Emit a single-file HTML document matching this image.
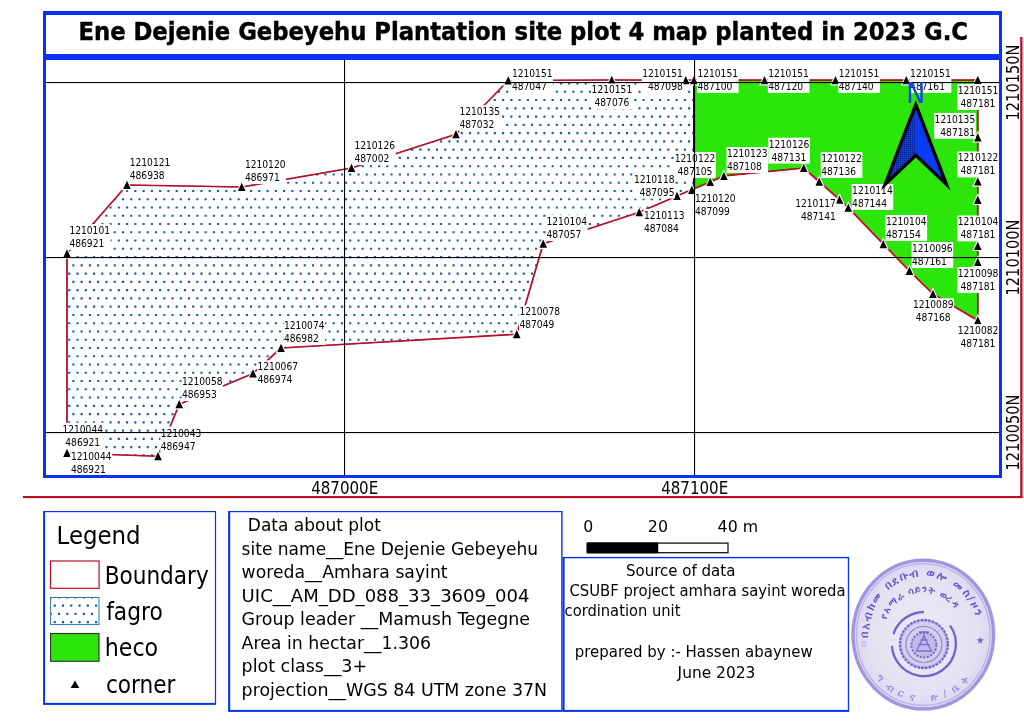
<!DOCTYPE html>
<html lang="en"><head><meta charset="utf-8"><title>Ene Dejenie Gebeyehu Plantation site plot 4 map</title>
<style>html,body{margin:0;padding:0;background:#fff}body{width:1024px;height:724px;overflow:hidden}svg{display:block;will-change:transform}text{font-family:"DejaVu Sans Condensed","DejaVu Sans","Liberation Sans",sans-serif;fill:#000}</style></head><body>
<svg width="1024" height="724" viewBox="0 0 1024 724">
<defs>
<pattern id="dots" patternUnits="userSpaceOnUse" x="0" y="0" width="8.264" height="16.528"><rect x="6.26" y="-0.1" width="2" height="2" rx="0.6" fill="#0f5eac"/><rect x="-2.0" y="-0.1" width="2" height="2" rx="0.6" fill="#0f5eac"/><rect x="2.13" y="8.16" width="2" height="2" rx="0.6" fill="#0f5eac"/></pattern>
<pattern id="adots" patternUnits="userSpaceOnUse" width="2" height="2"><rect x="0" y="0" width="1" height="1" fill="#02103f"/></pattern>
<clipPath id="mapclip"><rect x="46" y="60" width="953" height="415"/></clipPath>
<radialGradient id="stampg" cx="50%" cy="50%" r="50%"><stop offset="0" stop-color="#ebeaf5"/><stop offset="0.75" stop-color="#e4e2f2"/><stop offset="1" stop-color="#d9d4ef"/></radialGradient>
</defs>
<rect width="1024" height="724" fill="#fff"/>
<g clip-path="url(#mapclip)">
<clipPath id="fclip"><polygon points="67.00,253.50 127.00,185.00 241.75,187.00 351.50,168.00 456.00,134.25 508.25,80.50 611.75,80.00 685.75,80.20 694.00,80.20 694.00,188.80 691.75,189.50 677.00,196.00 639.25,212.25 543.25,243.75 516.75,334.25 281.00,348.00 253.00,373.50 179.25,404.25 158.00,456.25 67.00,453.00"/></clipPath>
<g clip-path="url(#fclip)" stroke="#0f5eac" stroke-width="2.1" stroke-dasharray="2.1 6.164" fill="none">
<path d="M35.14 58.75H1004M31.00 67.01H1004M35.14 75.27H1004M31.00 83.54H1004M35.14 91.80H1004M31.00 100.07H1004M35.14 108.33H1004M31.00 116.59H1004M35.14 124.86H1004M31.00 133.12H1004M35.14 141.39H1004M31.00 149.65H1004M35.14 157.91H1004M31.00 166.18H1004M35.14 174.44H1004M31.00 182.71H1004M35.14 190.97H1004M31.00 199.23H1004M35.14 207.50H1004M31.00 215.76H1004M35.14 224.03H1004M31.00 232.29H1004M35.14 240.55H1004M31.00 248.82H1004M35.14 257.08H1004M31.00 265.35H1004M35.14 273.61H1004M31.00 281.87H1004M35.14 290.14H1004M31.00 298.40H1004M35.14 306.67H1004M31.00 314.93H1004M35.14 323.19H1004M31.00 331.46H1004M35.14 339.72H1004M31.00 347.99H1004M35.14 356.25H1004M31.00 364.51H1004M35.14 372.78H1004M31.00 381.04H1004M35.14 389.31H1004M31.00 397.57H1004M35.14 405.83H1004M31.00 414.10H1004M35.14 422.36H1004M31.00 430.63H1004M35.14 438.89H1004M31.00 447.15H1004M35.14 455.42H1004M31.00 463.68H1004M35.14 471.95H1004"/>
</g>
<polygon points="67.00,253.50 127.00,185.00 241.75,187.00 351.50,168.00 456.00,134.25 508.25,80.50 611.75,80.00 685.75,80.20 694.00,80.20 694.00,188.80 691.75,189.50 677.00,196.00 639.25,212.25 543.25,243.75 516.75,334.25 281.00,348.00 253.00,373.50 179.25,404.25 158.00,456.25 67.00,453.00" fill="none" stroke="#2f78b7" stroke-width="0.9"/>
<polygon points="694.00,80.20 764.50,80.20 835.50,80.20 906.25,80.20 977.80,80.00 977.80,320.50 933.00,294.00 909.40,270.80 883.30,244.10 848.25,207.70 839.50,199.70 819.25,181.75 803.75,168.00 723.90,175.90 710.20,182.00 694.00,188.80" fill="#2ce50a" stroke="#30352c" stroke-width="0.9"/>
<polygon points="67.00,253.50 127.00,185.00 241.75,187.00 351.50,168.00 456.00,134.25 508.25,80.50 611.75,80.00 685.75,80.20 694.00,80.20 764.50,80.20 835.50,80.20 906.25,80.20 977.80,80.00 977.80,320.50 933.00,294.00 909.40,270.80 883.30,244.10 848.25,207.70 839.50,199.70 819.25,181.75 803.75,168.00 723.90,175.90 710.20,182.00 694.00,188.80 691.75,189.50 677.00,196.00 639.25,212.25 543.25,243.75 516.75,334.25 281.00,348.00 253.00,373.50 179.25,404.25 158.00,456.25 67.00,453.00" fill="none" stroke="#bf0a26" stroke-width="1.7" stroke-linejoin="round"/>
<rect x="693" y="84" width="1.2" height="105" fill="#111"/>
<g fill="#000" stroke="#fff" stroke-width="2.2" paint-order="stroke" stroke-linejoin="miter">
<path d="M67.00 249.30l3.8 8.3h-7.6z"/>
<path d="M127.00 180.80l3.8 8.3h-7.6z"/>
<path d="M241.75 182.80l3.8 8.3h-7.6z"/>
<path d="M351.50 163.80l3.8 8.3h-7.6z"/>
<path d="M456.00 130.05l3.8 8.3h-7.6z"/>
<path d="M508.25 76.30l3.8 8.3h-7.6z"/>
<path d="M611.75 75.80l3.8 8.3h-7.6z"/>
<path d="M685.75 76.00l3.8 8.3h-7.6z"/>
<path d="M693.90 76.00l3.8 8.3h-7.6z"/>
<path d="M691.90 185.60l3.8 8.3h-7.6z"/>
<path d="M677.00 191.80l3.8 8.3h-7.6z"/>
<path d="M639.25 208.05l3.8 8.3h-7.6z"/>
<path d="M543.25 239.55l3.8 8.3h-7.6z"/>
<path d="M516.75 330.05l3.8 8.3h-7.6z"/>
<path d="M281.00 343.80l3.8 8.3h-7.6z"/>
<path d="M253.00 369.30l3.8 8.3h-7.6z"/>
<path d="M179.25 400.05l3.8 8.3h-7.6z"/>
<path d="M158.00 452.05l3.8 8.3h-7.6z"/>
<path d="M67.00 448.80l3.8 8.3h-7.6z"/>
<path d="M764.50 76.00l3.8 8.3h-7.6z"/>
<path d="M835.50 76.00l3.8 8.3h-7.6z"/>
<path d="M906.25 76.00l3.8 8.3h-7.6z"/>
<path d="M977.80 75.80l3.8 8.3h-7.6z"/>
<path d="M977.80 316.30l3.8 8.3h-7.6z"/>
<path d="M933.00 289.80l3.8 8.3h-7.6z"/>
<path d="M909.40 266.60l3.8 8.3h-7.6z"/>
<path d="M883.30 239.90l3.8 8.3h-7.6z"/>
<path d="M848.25 203.50l3.8 8.3h-7.6z"/>
<path d="M839.50 195.50l3.8 8.3h-7.6z"/>
<path d="M819.25 177.55l3.8 8.3h-7.6z"/>
<path d="M803.75 163.80l3.8 8.3h-7.6z"/>
<path d="M723.90 171.70l3.8 8.3h-7.6z"/>
<path d="M710.20 177.80l3.8 8.3h-7.6z"/>
<path d="M977.80 133.10l3.8 8.3h-7.6z"/>
<path d="M977.80 177.30l3.8 8.3h-7.6z"/>
<path d="M977.80 195.60l3.8 8.3h-7.6z"/>
<path d="M977.80 241.70l3.8 8.3h-7.6z"/>
<path d="M977.80 257.80l3.8 8.3h-7.6z"/>
</g>
<g fill="#fff">
<rect x="69.00" y="224.10" width="41.60" height="25.90"/>
<rect x="129.30" y="156.10" width="41.60" height="25.90"/>
<rect x="244.50" y="158.10" width="41.60" height="25.90"/>
<rect x="354.00" y="139.10" width="41.60" height="25.90"/>
<rect x="459.00" y="105.35" width="41.60" height="25.90"/>
<rect x="511.50" y="67.00" width="41.60" height="25.90"/>
<rect x="591.20" y="83.35" width="41.60" height="25.90"/>
<rect x="641.80" y="67.00" width="41.60" height="25.90"/>
<rect x="697.00" y="67.00" width="41.60" height="25.90"/>
<rect x="767.80" y="67.00" width="41.60" height="25.90"/>
<rect x="838.30" y="67.00" width="41.60" height="25.90"/>
<rect x="909.70" y="67.00" width="41.60" height="25.90"/>
<rect x="957.30" y="84.10" width="41.60" height="25.90"/>
<rect x="934.20" y="112.90" width="41.60" height="25.90"/>
<rect x="957.30" y="151.50" width="41.60" height="25.90"/>
<rect x="957.30" y="215.50" width="41.60" height="25.90"/>
<rect x="957.30" y="267.00" width="41.60" height="25.90"/>
<rect x="957.30" y="324.20" width="41.60" height="25.90"/>
<rect x="912.50" y="298.30" width="41.60" height="25.90"/>
<rect x="911.60" y="242.10" width="41.60" height="25.90"/>
<rect x="885.50" y="215.00" width="41.60" height="25.90"/>
<rect x="851.70" y="184.00" width="41.60" height="25.90"/>
<rect x="794.80" y="197.10" width="41.60" height="25.90"/>
<rect x="820.75" y="152.10" width="41.60" height="25.90"/>
<rect x="768.30" y="137.70" width="41.60" height="25.90"/>
<rect x="726.50" y="147.10" width="41.60" height="25.90"/>
<rect x="674.30" y="152.10" width="41.60" height="25.90"/>
<rect x="694.50" y="191.60" width="41.60" height="25.90"/>
<rect x="633.50" y="172.60" width="41.60" height="25.90"/>
<rect x="643.50" y="208.85" width="41.60" height="25.90"/>
<rect x="546.00" y="215.10" width="41.60" height="25.90"/>
<rect x="519.00" y="305.35" width="41.60" height="25.90"/>
<rect x="283.50" y="319.10" width="41.60" height="25.90"/>
<rect x="257.00" y="360.35" width="41.60" height="25.90"/>
<rect x="181.50" y="375.10" width="41.60" height="25.90"/>
<rect x="160.25" y="426.60" width="41.60" height="25.90"/>
<rect x="62.00" y="422.70" width="41.60" height="25.90"/>
<rect x="70.50" y="449.70" width="41.60" height="25.90"/>
</g>
<g font-size="10.5">
<text x="69.40" y="234.00" textLength="40.6" lengthAdjust="spacingAndGlyphs">1210101</text>
<text x="69.40" y="247.00" textLength="34.9" lengthAdjust="spacingAndGlyphs">486921</text>
<text x="129.70" y="166.00" textLength="40.6" lengthAdjust="spacingAndGlyphs">1210121</text>
<text x="129.70" y="179.00" textLength="34.9" lengthAdjust="spacingAndGlyphs">486938</text>
<text x="244.90" y="168.00" textLength="40.6" lengthAdjust="spacingAndGlyphs">1210120</text>
<text x="244.90" y="181.00" textLength="34.9" lengthAdjust="spacingAndGlyphs">486971</text>
<text x="354.40" y="149.00" textLength="40.6" lengthAdjust="spacingAndGlyphs">1210126</text>
<text x="354.40" y="162.00" textLength="34.9" lengthAdjust="spacingAndGlyphs">487002</text>
<text x="459.40" y="115.25" textLength="40.6" lengthAdjust="spacingAndGlyphs">1210135</text>
<text x="459.40" y="128.25" textLength="34.9" lengthAdjust="spacingAndGlyphs">487032</text>
<text x="511.90" y="76.90" textLength="40.6" lengthAdjust="spacingAndGlyphs">1210151</text>
<text x="511.90" y="89.90" textLength="34.9" lengthAdjust="spacingAndGlyphs">487047</text>
<text x="591.60" y="93.25" textLength="40.6" lengthAdjust="spacingAndGlyphs">1210151</text>
<text x="594.45" y="106.25" textLength="34.9" lengthAdjust="spacingAndGlyphs">487076</text>
<text x="642.20" y="76.90" textLength="40.6" lengthAdjust="spacingAndGlyphs">1210151</text>
<text x="647.90" y="89.90" textLength="34.9" lengthAdjust="spacingAndGlyphs">487098</text>
<text x="697.40" y="76.90" textLength="40.6" lengthAdjust="spacingAndGlyphs">1210151</text>
<text x="697.40" y="89.90" textLength="34.9" lengthAdjust="spacingAndGlyphs">487100</text>
<text x="768.20" y="76.90" textLength="40.6" lengthAdjust="spacingAndGlyphs">1210151</text>
<text x="768.20" y="89.90" textLength="34.9" lengthAdjust="spacingAndGlyphs">487120</text>
<text x="838.70" y="76.90" textLength="40.6" lengthAdjust="spacingAndGlyphs">1210151</text>
<text x="838.70" y="89.90" textLength="34.9" lengthAdjust="spacingAndGlyphs">487140</text>
<text x="910.10" y="76.90" textLength="40.6" lengthAdjust="spacingAndGlyphs">1210151</text>
<text x="910.10" y="89.90" textLength="34.9" lengthAdjust="spacingAndGlyphs">487161</text>
<text x="957.70" y="94.00" textLength="40.6" lengthAdjust="spacingAndGlyphs">1210151</text>
<text x="960.55" y="107.00" textLength="34.9" lengthAdjust="spacingAndGlyphs">487181</text>
<text x="934.60" y="122.80" textLength="40.6" lengthAdjust="spacingAndGlyphs">1210135</text>
<text x="940.30" y="135.80" textLength="34.9" lengthAdjust="spacingAndGlyphs">487181</text>
<text x="957.70" y="161.40" textLength="40.6" lengthAdjust="spacingAndGlyphs">1210122</text>
<text x="960.55" y="174.40" textLength="34.9" lengthAdjust="spacingAndGlyphs">487181</text>
<text x="957.70" y="225.40" textLength="40.6" lengthAdjust="spacingAndGlyphs">1210104</text>
<text x="960.55" y="238.40" textLength="34.9" lengthAdjust="spacingAndGlyphs">487181</text>
<text x="957.70" y="276.90" textLength="40.6" lengthAdjust="spacingAndGlyphs">1210098</text>
<text x="960.55" y="289.90" textLength="34.9" lengthAdjust="spacingAndGlyphs">487181</text>
<text x="957.70" y="334.10" textLength="40.6" lengthAdjust="spacingAndGlyphs">1210082</text>
<text x="960.55" y="347.10" textLength="34.9" lengthAdjust="spacingAndGlyphs">487181</text>
<text x="912.90" y="308.20" textLength="40.6" lengthAdjust="spacingAndGlyphs">1210089</text>
<text x="915.75" y="321.20" textLength="34.9" lengthAdjust="spacingAndGlyphs">487168</text>
<text x="912.00" y="252.00" textLength="40.6" lengthAdjust="spacingAndGlyphs">1210096</text>
<text x="912.00" y="265.00" textLength="34.9" lengthAdjust="spacingAndGlyphs">487161</text>
<text x="885.90" y="224.90" textLength="40.6" lengthAdjust="spacingAndGlyphs">1210104</text>
<text x="885.90" y="237.90" textLength="34.9" lengthAdjust="spacingAndGlyphs">487154</text>
<text x="852.10" y="193.90" textLength="40.6" lengthAdjust="spacingAndGlyphs">1210114</text>
<text x="852.10" y="206.90" textLength="34.9" lengthAdjust="spacingAndGlyphs">487144</text>
<text x="795.20" y="207.00" textLength="40.6" lengthAdjust="spacingAndGlyphs">1210117</text>
<text x="800.90" y="220.00" textLength="34.9" lengthAdjust="spacingAndGlyphs">487141</text>
<text x="821.15" y="162.00" textLength="40.6" lengthAdjust="spacingAndGlyphs">1210122</text>
<text x="821.15" y="175.00" textLength="34.9" lengthAdjust="spacingAndGlyphs">487136</text>
<text x="768.70" y="147.60" textLength="40.6" lengthAdjust="spacingAndGlyphs">1210126</text>
<text x="771.55" y="160.60" textLength="34.9" lengthAdjust="spacingAndGlyphs">487131</text>
<text x="726.90" y="157.00" textLength="40.6" lengthAdjust="spacingAndGlyphs">1210123</text>
<text x="726.90" y="170.00" textLength="34.9" lengthAdjust="spacingAndGlyphs">487108</text>
<text x="674.70" y="162.00" textLength="40.6" lengthAdjust="spacingAndGlyphs">1210122</text>
<text x="677.55" y="175.00" textLength="34.9" lengthAdjust="spacingAndGlyphs">487105</text>
<text x="694.90" y="201.50" textLength="40.6" lengthAdjust="spacingAndGlyphs">1210120</text>
<text x="694.90" y="214.50" textLength="34.9" lengthAdjust="spacingAndGlyphs">487099</text>
<text x="633.90" y="182.50" textLength="40.6" lengthAdjust="spacingAndGlyphs">1210118</text>
<text x="639.60" y="195.50" textLength="34.9" lengthAdjust="spacingAndGlyphs">487095</text>
<text x="643.90" y="218.75" textLength="40.6" lengthAdjust="spacingAndGlyphs">1210113</text>
<text x="643.90" y="231.75" textLength="34.9" lengthAdjust="spacingAndGlyphs">487084</text>
<text x="546.40" y="225.00" textLength="40.6" lengthAdjust="spacingAndGlyphs">1210104</text>
<text x="546.40" y="238.00" textLength="34.9" lengthAdjust="spacingAndGlyphs">487057</text>
<text x="519.40" y="315.25" textLength="40.6" lengthAdjust="spacingAndGlyphs">1210078</text>
<text x="519.40" y="328.25" textLength="34.9" lengthAdjust="spacingAndGlyphs">487049</text>
<text x="283.90" y="329.00" textLength="40.6" lengthAdjust="spacingAndGlyphs">1210074</text>
<text x="283.90" y="342.00" textLength="34.9" lengthAdjust="spacingAndGlyphs">486982</text>
<text x="257.40" y="370.25" textLength="40.6" lengthAdjust="spacingAndGlyphs">1210067</text>
<text x="257.40" y="383.25" textLength="34.9" lengthAdjust="spacingAndGlyphs">486974</text>
<text x="181.90" y="385.00" textLength="40.6" lengthAdjust="spacingAndGlyphs">1210058</text>
<text x="181.90" y="398.00" textLength="34.9" lengthAdjust="spacingAndGlyphs">486953</text>
<text x="160.65" y="436.50" textLength="40.6" lengthAdjust="spacingAndGlyphs">1210043</text>
<text x="160.65" y="449.50" textLength="34.9" lengthAdjust="spacingAndGlyphs">486947</text>
<text x="62.40" y="432.60" textLength="40.6" lengthAdjust="spacingAndGlyphs">1210044</text>
<text x="65.25" y="445.60" textLength="34.9" lengthAdjust="spacingAndGlyphs">486921</text>
<text x="70.90" y="459.60" textLength="40.6" lengthAdjust="spacingAndGlyphs">1210044</text>
<text x="70.90" y="472.60" textLength="34.9" lengthAdjust="spacingAndGlyphs">486921</text>
</g>
</g>
<g fill="#000">
<rect x="344" y="60" width="1.1" height="415"/>
<rect x="694" y="60" width="1.1" height="415"/>
<rect x="46" y="82" width="953" height="1.1"/>
<rect x="46" y="257" width="953" height="1.1"/>
<rect x="46" y="432" width="953" height="1.1"/>
</g>
<g>
<path d="M915.8 104.5L946.4 184.4L915.8 155.3L885.2 184.4Z" fill="#0a3cf5"/>
<path d="M915.8 104.5L915.8 155.3L885.2 184.4Z" fill="url(#adots)" opacity="0.8"/>
<path d="M915.8 104.5L946.4 184.4L915.8 155.3L885.2 184.4Z" fill="none" stroke="#000" stroke-width="3.3" stroke-linejoin="miter" stroke-miterlimit="10"/>
<text x="906.3" y="102.6" font-size="29" textLength="19" lengthAdjust="spacingAndGlyphs" style="fill:#1146e8">N</text>
</g>
<g fill="#0633f2">
<rect x="43" y="11" width="959" height="4"/>
<rect x="43" y="11" width="3" height="467"/>
<rect x="999" y="11" width="3" height="467"/>
<rect x="43" y="54" width="959" height="6"/>
<rect x="43" y="475" width="959" height="3"/>
</g>
<g fill="#bf0a26"><rect x="23" y="496" width="999.5" height="2.1"/><rect x="1020.2" y="37" width="2.3" height="461"/></g>
<text x="78.5" y="40" font-size="24" font-weight="bold" stroke="#000" stroke-width="0.4" textLength="889.5" lengthAdjust="spacingAndGlyphs">Ene Dejenie Gebeyehu Plantation site plot 4 map planted in 2023 G.C</text>
<g font-size="17">
<text x="311.2" y="493.8" textLength="67" lengthAdjust="spacingAndGlyphs">487000E</text>
<text x="661.2" y="493.8" textLength="67" lengthAdjust="spacingAndGlyphs">487100E</text>
<text transform="translate(1018.6 120.5) rotate(-90)" x="0" y="0" textLength="76" lengthAdjust="spacingAndGlyphs">1210150N</text>
<text transform="translate(1018.6 295.5) rotate(-90)" x="0" y="0" textLength="76" lengthAdjust="spacingAndGlyphs">1210100N</text>
<text transform="translate(1018.6 470.5) rotate(-90)" x="0" y="0" textLength="76" lengthAdjust="spacingAndGlyphs">1210050N</text>
</g>
<rect x="43.1" y="511.0" width="173.0" height="193.9" fill="#0633f2"/><rect x="45.1" y="512.2" width="169.8" height="190.7" fill="#fff"/>
<text x="56.6" y="543.8" font-size="25" textLength="84" lengthAdjust="spacingAndGlyphs">Legend</text>
<rect x="50.5" y="561" width="48.6" height="27.3" fill="#fff" stroke="#bf0a26" stroke-width="1.2"/>
<text x="104.7" y="583.8" font-size="24" textLength="104" lengthAdjust="spacingAndGlyphs">Boundary</text>
<clipPath id="swclip"><rect x="50.5" y="597.4" width="48.5" height="27.3"/></clipPath>
<g clip-path="url(#swclip)" stroke="#0f5eac" stroke-width="2.1" stroke-dasharray="2.1 6.164" fill="none"><path d="M41.44 597.4H100M45.44 605.65H100M41.44 613.9H100M45.44 622.15H100"/></g>
<rect x="50.55" y="597.45" width="48.4" height="27.1" fill="none" stroke="#2f78b7" stroke-width="1"/>
<text x="106.2" y="619.6" font-size="24" textLength="56.5" lengthAdjust="spacingAndGlyphs">fagro</text>
<rect x="50.6" y="633.5" width="48.4" height="27.8" fill="#2ce50a" stroke="#2f302d" stroke-width="1.1"/>
<text x="104.7" y="656.3" font-size="24" textLength="53.5" lengthAdjust="spacingAndGlyphs">heco</text>
<path d="M75 680.4l4.3 7.6h-8.6z" fill="#000"/>
<text x="105.9" y="692.6" font-size="24" textLength="69.5" lengthAdjust="spacingAndGlyphs">corner</text>
<rect x="228.1" y="511.0" width="334.5" height="200.9" fill="#0633f2"/><rect x="230.2" y="512.2" width="331.0" height="197.7" fill="#fff"/>
<g font-size="17.2">
<text x="247.8" y="531.3" textLength="133" lengthAdjust="spacingAndGlyphs">Data about plot</text>
<text x="241.6" y="555" textLength="296.5" lengthAdjust="spacingAndGlyphs">site name__Ene Dejenie Gebeyehu</text>
<text x="241.6" y="578.3" textLength="206" lengthAdjust="spacingAndGlyphs">woreda__Amhara sayint</text>
<text x="241.6" y="601.8" textLength="288" lengthAdjust="spacingAndGlyphs">UIC__AM_DD_088_33_3609_004</text>
<text x="241.6" y="625" textLength="288.5" lengthAdjust="spacingAndGlyphs">Group leader __Mamush Tegegne</text>
<text x="241.6" y="648.8" textLength="189.5" lengthAdjust="spacingAndGlyphs">Area in hectar__1.306</text>
<text x="241.6" y="672" textLength="125.5" lengthAdjust="spacingAndGlyphs">plot class__3+</text>
<text x="241.6" y="696.2" textLength="305.5" lengthAdjust="spacingAndGlyphs">projection__WGS 84 UTM zone 37N</text>
</g>
<g font-size="16.2">
<text x="583.2" y="531.8" textLength="10" lengthAdjust="spacingAndGlyphs">0</text>
<text x="647.8" y="531.8" textLength="20.2" lengthAdjust="spacingAndGlyphs">20</text>
<text x="717.6" y="531.8" textLength="40.5" lengthAdjust="spacingAndGlyphs">40 m</text>
</g>
<rect x="587.3" y="543.1" width="140.7" height="9.6" fill="#fff" stroke="#000" stroke-width="1.2"/>
<rect x="586.7" y="542.5" width="71.5" height="10.8" fill="#000"/>
<rect x="562.6" y="556.9" width="286.5" height="155.0" fill="#0633f2"/><rect x="564.6" y="558.3" width="283.2" height="151.6" fill="#fff"/>
<g font-size="16.6">
<text x="625.9" y="575.5" textLength="109.5" lengthAdjust="spacingAndGlyphs">Source of data</text>
<text x="569.4" y="596.3" textLength="276.2" lengthAdjust="spacingAndGlyphs">CSUBF project amhara sayint woreda</text>
<text x="564.6" y="616.3" textLength="115.8" lengthAdjust="spacingAndGlyphs">cordination unit</text>
<text x="574.8" y="657" textLength="238" lengthAdjust="spacingAndGlyphs">prepared by :- Hassen abaynew</text>
<text x="677.6" y="677.5" textLength="77.8" lengthAdjust="spacingAndGlyphs">June 2023</text>
</g>
<g>
<ellipse cx="923.3" cy="634.6" rx="72.3" ry="76.4" fill="url(#stampg)"/>
<ellipse cx="923.3" cy="634.6" rx="70.2" ry="74.3" fill="none" stroke="#9583dc" stroke-width="3.2" opacity="0.8"/>
<ellipse cx="923.3" cy="634.6" rx="66.8" ry="70.8" fill="none" stroke="#a595e2" stroke-width="1.1" opacity="0.7"/>
<path id="arc1" d="M868.46 637.64A54.92 58.08 0 0 1 976.35 619.57" fill="none"/>
<path id="arc2" d="M886.09 619.50A39.85 42.15 0 0 1 955.54 609.83" fill="none"/>
<path id="arc3" d="M875.62 678.44A63.18 66.82 0 0 0 970.98 678.44" fill="none"/>
<g font-weight="bold">
<text font-size="11.2" style="fill:#644bc4;font-family:"Noto Sans Ethiopic","Abyssinica SIL","DejaVu Sans","Liberation Sans",sans-serif" opacity="0.95"><textPath href="#arc1" textLength="162" lengthAdjust="spacing">በአብክመ በደቡብ ወሎ መስ/ዞን</textPath></text>
<text font-size="9.6" style="fill:#644bc4;font-family:"Noto Sans Ethiopic","Abyssinica SIL","DejaVu Sans","Liberation Sans",sans-serif" opacity="0.95"><textPath href="#arc2" textLength="85" lengthAdjust="spacing">የአማራ ሳይንት ወረዳ</textPath></text>
<text font-size="10" style="fill:#8570d4;font-family:"Noto Sans Ethiopic","Abyssinica SIL","DejaVu Sans","Liberation Sans",sans-serif" opacity="0.75"><textPath href="#arc3" textLength="107" lengthAdjust="spacing">ግብርና ጽ/ቤት</textPath></text>
<text x="864" y="646.6" font-size="10" text-anchor="middle" style="fill:#7a63cf;font-family:"Noto Sans Ethiopic","Abyssinica SIL","DejaVu Sans","Liberation Sans",sans-serif" opacity="0.85">☆</text>
<text x="980.3" y="644.4" font-size="10.5" text-anchor="middle" style="fill:#6f57c9;font-family:"Noto Sans Ethiopic","Abyssinica SIL","DejaVu Sans","Liberation Sans",sans-serif" opacity="0.9">★</text>
</g>
<g fill="none" stroke="#6a52c7">
<circle cx="923.9" cy="644" r="32" stroke-width="2.3" opacity="0.9" stroke-dasharray="118 12 40 31" transform="rotate(-35 923.9 644)"/>
<circle cx="923.9" cy="644" r="23.6" stroke-width="3.2" opacity="0.85" stroke-dasharray="2.6 1.1"/>
<circle cx="923.9" cy="644" r="23.6" fill="#cdc6ec" stroke-width="0.8" opacity="0.7"/>
<circle cx="923.9" cy="644.5" r="18" stroke-width="1.2" opacity="0.6"/>
<circle cx="923.9" cy="645" r="12.5" fill="#bfb5e8" stroke-width="2" opacity="0.8" stroke-dasharray="2.2 1.4"/>
<path d="M916.5 651l7.4-15 7.4 15zM918.5 644.5h11M920.5 640h7M923.9 636v-5M919 632h10" stroke-width="1.3" opacity="0.75"/>
</g>
</g>
</svg></body></html>
